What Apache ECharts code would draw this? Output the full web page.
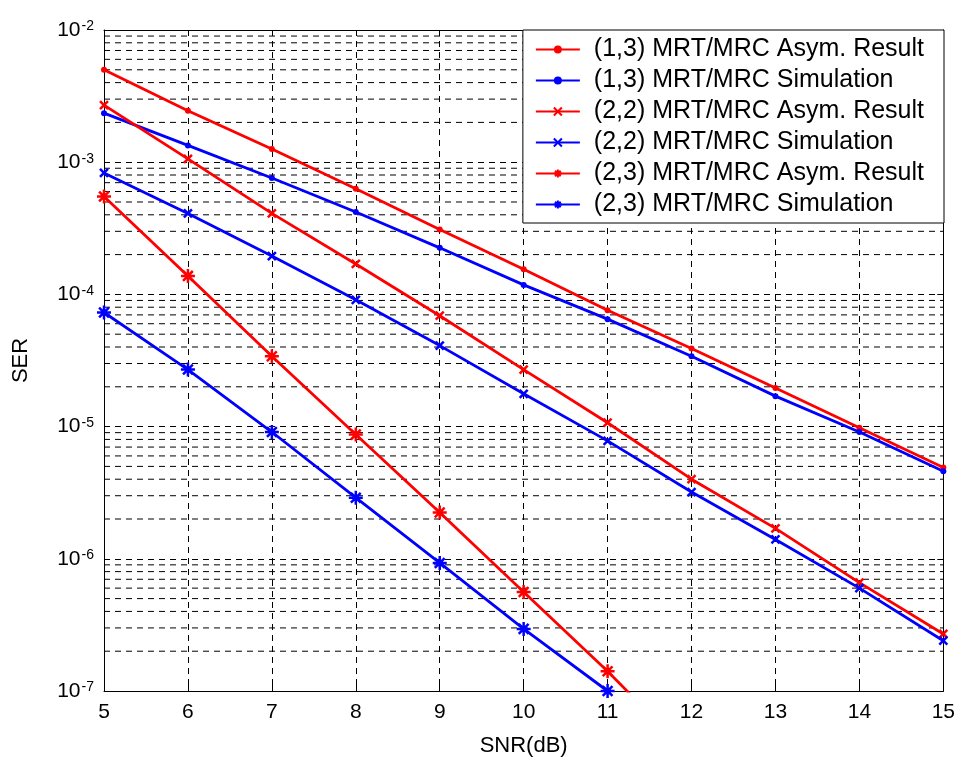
<!DOCTYPE html>
<html>
<head>
<meta charset="utf-8">
<script src="https://cdn.jsdelivr.net/npm/echarts@6/dist/echarts.min.js"></script>
<style>
  html, body { margin: 0; padding: 0; background: #fff; }
  #chart { width: 958px; height: 765px; }
</style>
</head>
<body>
<div id="chart"></div>
<script>
// SNR (dB)
var snr = [5, 6, 7, 8, 9, 10, 11, 12, 13, 14, 15];

// SER values
var asym13 = [5.0e-3, 2.45e-3, 1.26e-3, 6.3e-4, 3.1e-4, 1.55e-4, 7.6e-5, 3.9e-5, 1.96e-5, 9.8e-6, 4.9e-6];
var sim13 = [2.35e-3, 1.34e-3, 7.6e-4, 4.2e-4, 2.25e-4, 1.18e-4, 6.5e-5, 3.4e-5, 1.7e-5, 9.1e-6, 4.6e-6];
var asym22 = [2.7e-3, 1.06e-3, 4.1e-4, 1.7e-4, 6.9e-5, 2.7e-5, 1.07e-5, 4.0e-6, 1.7e-6, 6.6e-7, 2.7e-7];
var sim22 = [8.3e-4, 4.1e-4, 1.95e-4, 9.1e-5, 4.1e-5, 1.77e-5, 7.8e-6, 3.2e-6, 1.4e-6, 6.0e-7, 2.4e-7];
var asym23 = [5.5e-4, 1.38e-4, 3.4e-5, 8.7e-6, 2.24e-6, 5.6e-7, 1.41e-7, 3.2e-8];
var sim23 = [7.3e-5, 2.7e-5, 9.1e-6, 2.9e-6, 9.3e-7, 2.95e-7, 1.0e-7];

var names = [
  '(1,3) MRT/MRC Asym. Result',
  '(1,3) MRT/MRC Simulation',
  '(2,2) MRT/MRC Asym. Result',
  '(2,2) MRT/MRC Simulation',
  '(2,3) MRT/MRC Asym. Result',
  '(2,3) MRT/MRC Simulation'
];

// minor log grid values (2..9 of each decade)
var minorValues = [];
for (var e = -7; e < -2; e++) {
  for (var m = 2; m <= 9; m++) {
    minorValues.push(m * Math.pow(10, e));
  }
}

var FONT = 'Liberation Sans, Arial, sans-serif';
var crossPath = 'path://M0,0L10,10M10,0L0,10';
var starPath = 'path://M5,0L5,10M0,5L10,5M1.5,1.5L8.5,8.5M8.5,1.5L1.5,8.5';

function pairs(ys) {
  var out = [];
  for (var i = 0; i < ys.length; i++) out.push([snr[i], ys[i]]);
  return out;
}

function makeSeries(name, ys, color, symbol, size) {
  var stroke = symbol !== 'circle';
  return {
    name: name,
    type: 'line',
    data: pairs(ys),
    clip: true,
    symbol: symbol,
    symbolSize: size,
    showAllSymbol: true,
    z: 3,
    lineStyle: { color: color, width: 2.8 },
    itemStyle: {
      color: color,
      borderColor: color,
      borderWidth: stroke ? 2.5 : 0
    }
  };
}

// dashed minor grid lines, one segment per value, gaps between them
var gridData = [];
minorValues.forEach(function (v) {
  gridData.push([snr[0], v], [snr[snr.length - 1], v], [snr[snr.length - 1], '-']);
});

var dashed = { show: true, lineStyle: { color: '#000', type: [6, 5], width: 1 } };

var chart = echarts.init(document.getElementById('chart'));

var option = {
  backgroundColor: '#fff',
  animation: false,
  textStyle: { fontFamily: FONT },
  grid: { left: 104, right: 14, top: 30, bottom: 74 },
  legend: {
    data: names,
    orient: 'vertical',
    right: 14,
    top: 30,
    padding: [7, 20, 6, 12],
    itemGap: 6,
    itemWidth: 44,
    itemHeight: 10,
    backgroundColor: '#fff',
    borderColor: '#000',
    borderWidth: 1,
    borderRadius: 0,
    z: 10,
    textStyle: { fontSize: 25, color: '#000', fontFamily: FONT, padding: [0, 0, 0, 9] }
  },
  xAxis: [{
    type: 'value',
    min: 5,
    max: 15,
    interval: 1,
    name: 'SNR(dB)',
    nameLocation: 'middle',
    nameGap: 44,
    nameTextStyle: { fontSize: 22, color: '#000', fontFamily: FONT },
    axisLine: { show: true, lineStyle: { color: '#000', width: 1 } },
    axisTick: { inside: true, length: 6, lineStyle: { color: '#000' } },
    axisLabel: { fontSize: 21, color: '#000', margin: 11, fontFamily: FONT },
    splitLine: dashed
  }, {
    type: 'value',
    position: 'top',
    min: 5,
    max: 15,
    interval: 1,
    axisLine: { show: true, lineStyle: { color: '#000', width: 1 } },
    axisTick: { inside: true, length: 6, lineStyle: { color: '#000' } },
    axisLabel: { show: false },
    splitLine: { show: false }
  }],
  yAxis: [{
    type: 'log',
    logBase: 10,
    min: 1e-7,
    max: 1e-2,
    interval: 1,
    name: 'SER',
    nameLocation: 'middle',
    nameGap: 72,
    nameTextStyle: { fontSize: 22, color: '#000', fontFamily: FONT },
    axisLine: { show: true, lineStyle: { color: '#000', width: 1 } },
    axisTick: { inside: true, length: 6, lineStyle: { color: '#000' } },
    axisLabel: {
      margin: 10,
      formatter: function (v) {
        return '{b|10}{s|' + Math.round(Math.log10(v)) + '}';
      },
      rich: {
        b: { fontSize: 21, lineHeight: 21, color: '#000', fontFamily: FONT, verticalAlign: 'bottom' },
        s: { fontSize: 14, lineHeight: 14, color: '#000', fontFamily: FONT, verticalAlign: 'top', padding: [0, 0, 12, 1] }
      }
    },
    splitLine: dashed
  }, {
    type: 'log',
    logBase: 10,
    min: 1e-7,
    max: 1e-2,
    interval: 1,
    position: 'right',
    axisLine: { show: true, lineStyle: { color: '#000', width: 1 } },
    axisTick: { inside: true, length: 6, lineStyle: { color: '#000' } },
    axisLabel: { show: false },
    splitLine: { show: false }
  }],
  series: [
    {
      name: 'minor-grid',
      type: 'line',
      data: gridData,
      symbol: 'none',
      connectNulls: false,
      silent: true,
      z: 1,
      lineStyle: { color: '#000', type: [6, 5], width: 1 }
    },
    makeSeries(names[0], asym13, '#ff0000', 'circle', 6),
    makeSeries(names[1], sim13, '#0000ff', 'circle', 6),
    makeSeries(names[2], asym22, '#ff0000', crossPath, 8),
    makeSeries(names[3], sim22, '#0000ff', crossPath, 8),
    makeSeries(names[4], asym23, '#ff0000', starPath, 14),
    makeSeries(names[5], sim23, '#0000ff', starPath, 14)
  ]
};

chart.setOption(option);
</script>
</body>
</html>
